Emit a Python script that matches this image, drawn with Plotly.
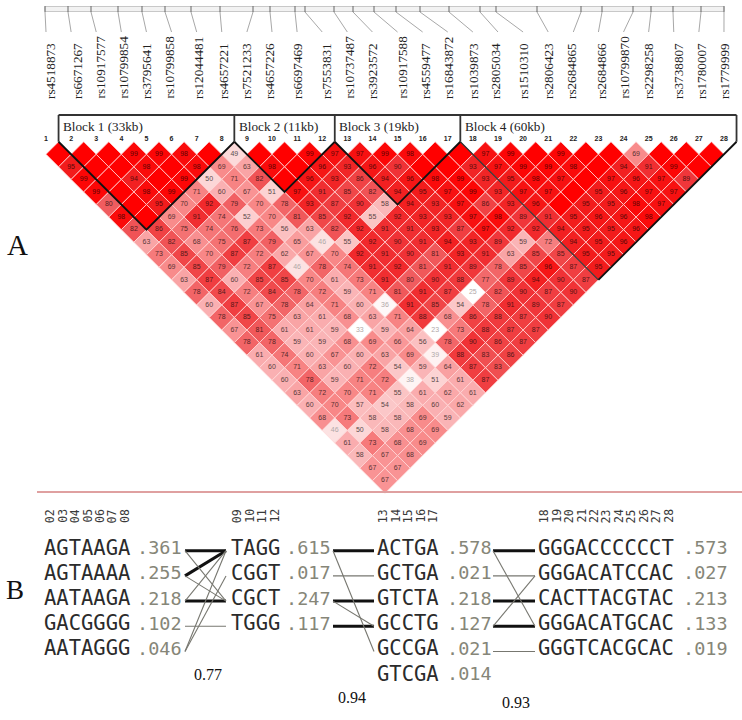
import plotly.graph_objects as go

snp_ids = ["rs4518873","rs6671267","rs10917577","rs10799854","rs3795641","rs10799858","rs12044481","rs4657221",
           "rs7521233","rs4657226","rs6697469","rs7553831","rs10737487","rs3923572","rs10917588","rs4559477",
           "rs16843872","rs1039873","rs2805034","rs1510310","rs2806423","rs2684865","rs2684866","rs10799870",
           "rs2298258","rs3738807","rs1780007","rs1779999"]
label_x = [50,77,100,123,146,169,198,223,246,269,297,326,349,372,402,425,448,473,495,523,548,571,601,624,648,678,701,724]
map_x = [45,68,91,118,142,165,191,220,253,270,295,305,334,353,374,396,420,449,480,496,537,581,602,633,651,673,701,724]

# D' values per depth (distance between the SNPs minus one); 100 = unlabelled full red
ld_rows = [
 [100,100,100,99,99,98,100,49,100,100,99,97,97,99,98,100,100,97,99,100,99,100,100,69,100,100,100],
 [95,100,100,98,100,98,69,63,98,100,96,93,96,90,100,100,93,97,99,99,98,100,94,91,99,100],
 [99,100,94,100,99,50,71,82,100,96,93,86,94,96,98,99,93,95,98,97,100,97,96,97,89],
 [99,100,98,99,71,60,67,51,97,91,85,82,94,95,97,99,93,97,97,100,95,96,97,97],
 [80,100,95,70,92,79,70,78,93,87,90,58,94,93,97,86,93,96,100,95,95,98,97],
 [98,100,69,91,74,52,70,81,85,92,55,92,93,93,97,98,89,91,95,96,96,98],
 [82,86,75,74,76,73,56,63,82,92,91,91,93,87,97,92,92,94,95,95,96],
 [63,82,68,75,87,79,65,46,55,92,90,91,94,93,89,59,72,94,95,96],
 [73,85,70,87,72,62,67,70,92,91,90,81,93,91,63,85,85,95,95],
 [69,85,79,72,87,46,78,74,91,92,81,91,89,78,85,96,87,95],
 [63,87,60,85,85,70,61,73,91,80,90,88,77,89,94,90,87],
 [78,84,72,84,78,72,59,71,81,91,87,25,82,90,87,90],
 [60,87,67,78,64,71,60,36,91,85,54,78,91,89,87],
 [78,85,75,63,61,68,63,71,88,68,86,88,87,90],
 [67,81,61,61,59,33,59,64,23,73,88,87,87],
 [78,78,59,59,68,69,66,56,78,90,86,87],
 [61,74,60,67,60,63,69,39,88,83,86],
 [60,71,63,60,72,54,59,64,87,83],
 [60,78,59,71,72,38,51,61,87],
 [63,72,70,71,55,61,62,61],
 [60,70,57,54,58,60,62],
 [68,73,58,58,69,59],
 [46,50,58,68,69],
 [61,73,68,69],
 [58,67,68],
 [67,67],
 [67],
]

block_spans = [(2,8),(9,12),(13,17),(18,28)]
block_names = ["Block 1 (33kb)","Block 2 (11kb)","Block 3 (19kb)","Block 4 (60kb)"]

block1_cols = ["02","03","04","05","06","07","08"]
block1_haps = ["AGTAAGA","AGTAAAA","AATAAGA","GACGGGG","AATAGGG"]
block1_freq = [".361",".255",".218",".102",".046"]
block2_cols = ["09","10","11","12"]
block2_haps = ["TAGG","CGGT","CGCT","TGGG"]
block2_freq = [".615",".017",".247",".117"]
block3_cols = ["13","14","15","16","17"]
block3_haps = ["ACTGA","GCTGA","GTCTA","GCCTG","GCCGA","GTCGA"]
block3_freq = [".578",".021",".218",".127",".021",".014"]
block4_cols = ["18","19","20","21","22","23","24","25","26","27","28"]
block4_haps = ["GGGACCCCCCT","GGGACATCCAC","CACTTACGTAC","GGGACATGCAC","GGGTCACGCAC"]
block4_freq = [".573",".027",".213",".133",".019"]

# (left haplotype, right haplotype, line class: 2 strong, 1 faint)
links_12 = [(0,0,2),(1,0,2),(2,2,2),(3,3,1),(0,2,1),(1,2,1),(2,0,1),(4,0,1),(4,1,1)]
links_23 = [(0,0,2),(1,1,1),(2,2,2),(3,3,2),(2,3,1),(0,4,1)]
links_34 = [(0,0,2),(1,1,1),(2,2,2),(3,3,2),(0,3,1),(3,1,1),(4,4,1)]
multiallelic = ["0.77","0.94","0.93"]

# ---------- layout constants
W, H = 742, 720
X0, DX = 46.0, 25.11      # pixel of SNP 1, pixels per SNP
Y0, DY = 154.3, 12.555    # pixel of depth 0, pixels per depth
stops = [(0,(255,255,255)),(33,(255,255,255)),(46,(252,226,226)),(50,(252,215,215)),(60,(250,176,178)),
         (70,(248,135,135)),(80,(240,92,95)),(85,(240,70,72)),(90,(240,50,54)),(95,(242,28,28)),(100,(255,0,0))]

def ld_color(v):
    for (a,ca),(b,cb) in zip(stops, stops[1:]):
        if a <= v <= b:
            t = (v-a)/(b-a)
            return tuple(round(p+(q-p)*t) for p,q in zip(ca,cb))
    return stops[-1][1]

def css(c):
    return "rgb(%d,%d,%d)" % tuple(c)

xs, ys, cols, txt, tcols = [], [], [], [], []
for d, row in enumerate(ld_rows):
    for i, v in enumerate(row):
        a, b = i+1, i+d+2
        xs.append((a+b)/2); ys.append(d)
        c = ld_color(v); cols.append(css(c))
        txt.append("" if v == 100 else str(v))
        tcols.append("#b0a8a8" if v < 47 else css(tuple(int(p*0.36) for p in c)))

fig = go.Figure()
fig.add_trace(go.Scatter(x=xs, y=ys, mode="markers+text", text=txt, textposition="middle center",
    textfont=dict(family="Liberation Sans", size=7, color=tcols),
    marker=dict(symbol="diamond", size=19.3, color=cols, line=dict(color="#ffd8d8", width=0.8)),
    xaxis="x", yaxis="y", hoverinfo="skip", cliponaxis=False))

# block outlines (SNP/depth units)
for n, (a, b) in enumerate(block_spans):
    if n == 3:
        fig.add_trace(go.Scatter(x=[a-0.5,(a+b)/2], y=[-1,b-a], mode="lines",
            line=dict(color="#222222", width=1.1), xaxis="x", yaxis="y", hoverinfo="skip"))
        fig.add_trace(go.Scatter(x=[(a+b)/2,b+0.5], y=[b-a,-1], mode="lines",
            line=dict(color="#111111", width=1.8), xaxis="x", yaxis="y", hoverinfo="skip"))
    else:
        fig.add_trace(go.Scatter(x=[a-0.5,(a+b)/2,b+0.5], y=[-1,b-a,-1], mode="lines",
            line=dict(color="#111111", width=1.8), xaxis="x", yaxis="y", hoverinfo="skip"))
top_y = -1-(Y0-DY-115)/DY
edges = [s[0]-0.5 for s in block_spans] + [block_spans[-1][1]+0.5]
ex, ey = [], []
for e in edges:
    ex += [e,e,None]; ey += [top_y,-1,None]
ex += [edges[0],edges[-1]]; ey += [top_y,top_y]
fig.add_trace(go.Scatter(x=ex, y=ey, mode="lines", line=dict(color="#333333", width=1.8),
    xaxis="x", yaxis="y", hoverinfo="skip"))

# SNP numbers
fig.add_trace(go.Scatter(x=list(range(1,29)), y=[-1.22]*28, mode="text", text=[str(i) for i in range(1,29)],
    textposition="middle center", textfont=dict(family="Liberation Sans", size=7, color="#222222", weight=700),
    xaxis="x", yaxis="y", hoverinfo="skip"))

# map ruler
fig.add_shape(type="rect", xref="x2", yref="y2", x0=map_x[0], x1=map_x[-1], y0=6.5, y1=11.5,
              fillcolor="#f2f2f2", line=dict(color="#c8c8c8", width=1), layer="below")
rx, ry, tx, ty = [], [], [], []
for i, m in enumerate(map_x):
    tx += [m,m,None]; ty += [6,12,None]
    rx += [m, X0+i*DX, None]; ry += [12,32,None]
fig.add_trace(go.Scatter(x=rx, y=ry, mode="lines", line=dict(color="#a8a8a8", width=1), xaxis="x2", yaxis="y2", hoverinfo="skip"))
fig.add_trace(go.Scatter(x=tx, y=ty, mode="lines", line=dict(color="#666666", width=1), xaxis="x2", yaxis="y2", hoverinfo="skip"))
fig.add_shape(type="line", xref="x2", yref="y2", x0=37, x1=742, y0=492, y1=492, line=dict(color="#dfa0a0", width=2))

ann = []
def note(x, y, s, size, family, color="#111111", angle=0, xa="center", ya="middle", weight=None):
    f = dict(family=family, size=size, color=color)
    if weight:
        f["weight"] = weight
    ann.append(dict(x=x, y=y, xref="x2", yref="y2", text=s, showarrow=False, textangle=angle,
        font=f, xanchor=xa, yanchor=ya, borderpad=0, borderwidth=0))

for s, x in zip(snp_ids, label_x):
    note(x, 99, s, 13.2, "Liberation Serif", "#222222", -90, "center", "bottom")
for (a, b), n in zip(block_spans, block_names):
    note(X0+(a-0.5-1)*DX+4.5, 126, n, 13.2, "Liberation Serif", "#222222", 0, "left", "middle")
note(17, 245, "A", 29, "Liberation Serif"); note(15, 590, "B", 27, "Liberation Serif")
note(208, 674, multiallelic[0], 16, "Liberation Serif", "#111111")
note(352, 697, multiallelic[1], 16, "Liberation Serif", "#111111")
note(516, 702, multiallelic[2], 16, "Liberation Serif", "#111111")

# haplotype panel
ROW0, ROWH, CH = 549.5, 25.2, 12.45
blocks = [(44,137,block1_cols,block1_haps,block1_freq),(231,286,block2_cols,block2_haps,block2_freq),
          (377,447,block3_cols,block3_haps,block3_freq),(538,683,block4_cols,block4_haps,block4_freq)]
for x_h, x_f, columns, haps, freqs in blocks:
    rows = [ROW0+ROWH*r for r in range(len(haps))]
    fig.add_trace(go.Scatter(x=[x_h]*len(haps), y=rows, mode="text", text=haps, textposition="middle right",
        textfont=dict(family="DejaVu Sans Mono", size=20.5, color="#2b2b2b"), xaxis="x2", yaxis="y2", hoverinfo="skip"))
    fig.add_trace(go.Scatter(x=[x_f]*len(haps), y=rows, mode="text", text=freqs, textposition="middle right",
        textfont=dict(family="DejaVu Sans Mono", size=18.5, color="#868678"), xaxis="x2", yaxis="y2", hoverinfo="skip"))
    for k, c in enumerate(columns):
        note(x_h+CH*(k+0.5), 516, c, 11.5, "DejaVu Sans Mono", "#3a3a3a", -90)

for (x0, x1), links in [((185,226),links_12),((333,374),links_23),((493,535),links_34)]:
    for l, r, cls in links:
        fig.add_trace(go.Scatter(x=[x0,x1], y=[ROW0+1.2+ROWH*l, ROW0+1.2+ROWH*r], mode="lines",
            line=dict(color="#111111" if cls == 2 else "#777770", width=3 if cls == 2 else 1.1),
            xaxis="x2", yaxis="y2", hoverinfo="skip"))

hidden = dict(visible=False, fixedrange=True)
fig.update_layout(width=W, height=H, margin=dict(l=0,r=0,t=0,b=0), paper_bgcolor="white", plot_bgcolor="white",
    showlegend=False, annotations=ann,
    xaxis=dict(range=[1-X0/DX, 1+(W-X0)/DX], domain=[0,1], **hidden),
    yaxis=dict(range=[(H-Y0)/DY, -Y0/DY], domain=[0,1], **hidden),
    xaxis2=dict(range=[0,W], domain=[0,1], overlaying="x", **hidden),
    yaxis2=dict(range=[H,0], domain=[0,1], overlaying="y", **hidden))

fig.write_html("out.html", post_script="document.body.style.margin='0';", config={"responsive": False, "displayModeBar": False})
